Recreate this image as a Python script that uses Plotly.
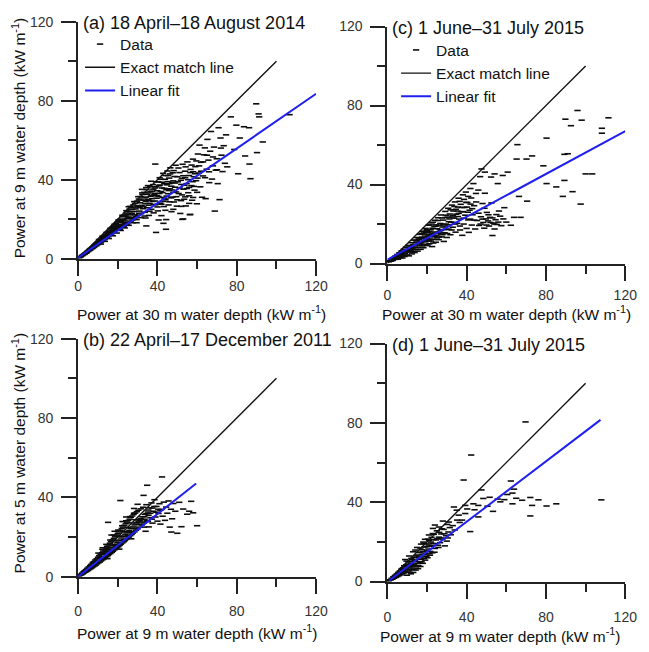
import plotly.graph_objects as go

# ---------------- data ----------------
a_points = [
    (0.6,0.5),(1.1,0.9),(1.4,1.0),(1.8,1.5),(2.2,1.6),(2.3,1.9),(2.7,2.1),(3.1,2.5),(3.3,2.2),(3.6,2.9),(3.9,2.8),(4.2,3.4),(4.4,3.0),
    (4.8,3.9),(5.1,3.6),(5.3,4.3),(5.7,4.1),(5.9,4.9),(6.2,4.4),(6.4,5.3),(6.8,5.0),(7.1,5.8),(7.3,5.2),(7.7,6.3),(8.0,5.7),(8.2,6.9),
    (8.6,6.2),(8.9,7.4),(9.2,6.6),(9.4,7.9),(9.8,7.1),(10.1,8.5),
    (10.4,7.6),(10.7,9.0),(11.0,8.1),(11.3,9.6),(11.6,8.4),(11.9,10.2),(12.2,8.9),(12.5,10.8),(12.8,9.5),(13.1,11.3),(13.4,9.9),
    (13.7,12.0),(14.0,10.4),(14.2,12.5),(14.6,10.9),(14.9,13.2),(15.2,11.3),(15.5,13.8),(15.8,11.9),(16.1,14.5),(16.4,12.3),(16.7,15.1),
    (17.0,12.7),(17.3,15.8),(17.6,13.4),(17.9,16.4),(18.2,13.7),(18.5,17.0),(18.8,14.5),(19.1,17.8),(19.4,14.9),(19.8,18.5),(15.3,12.6),
    (17.2,14.1),(18.6,15.5),(12.0,9.8),(13.9,11.5),
    (20.1,15.2),(20.4,19.0),(20.7,16.6),(21.0,14.8),(21.3,20.1),(21.6,17.4),(21.9,15.9),(22.3,21.2),(22.6,18.3),(22.9,16.2),(23.2,22.0),
    (23.5,19.1),(23.8,17.0),(24.1,23.1),(24.4,20.2),(24.7,17.5),(25.0,24.0),(25.3,21.0),(25.6,18.4),(25.9,25.1),(26.2,22.2),(26.5,19.0),
    (26.8,26.0),(27.1,23.0),(27.4,19.6),(27.8,27.2),(28.1,23.9),(28.4,20.5),(28.7,28.0),(29.0,25.2),(29.3,21.4),(29.7,29.1),(22.0,19.5),
    (24.0,21.5),(26.0,23.8),(28.0,26.1),(23.0,16.0),(27.0,21.0),(25.5,26.3),(21.5,18.8),
    (30.0,22.0),(30.3,26.4),(30.6,30.2),(30.9,24.1),(31.2,28.3),(31.5,31.4),(31.8,22.8),(32.1,27.0),(32.4,32.5),(32.7,25.3),(33.0,29.6),
    (33.3,33.6),(33.6,23.5),(33.9,27.9),(34.2,31.2),(34.5,35.0),(34.8,25.8),(35.1,30.0),(35.4,33.3),(35.7,21.9),(36.0,28.0),(36.3,36.4),
    (36.6,31.6),(36.9,25.0),(37.2,34.2),(37.5,29.0),(37.8,37.5),(38.1,23.2),(38.4,32.4),(38.7,35.8),(39.0,27.3),(39.3,38.9),(39.6,30.6),
    (39.9,34.4),(31.0,25.9),(33.5,30.8),(35.5,27.1),(37.0,31.9),(38.8,29.2),(34.0,20.6),(36.8,39.2),(32.2,35.1),(35.2,37.0),
    (40.2,24.2),(40.5,31.5),(40.8,36.9),(41.1,41.0),(41.4,28.1),(41.7,34.0),(42.0,21.8),(42.3,38.7),(42.6,31.0),(42.9,43.2),(43.2,26.4),
    (43.5,35.6),(43.8,40.2),(44.1,29.8),(44.4,19.8),(44.7,37.4),(45.0,44.4),(45.3,32.9),(45.6,27.2),(45.9,40.8),(46.2,35.4),(46.5,46.0),
    (46.8,30.8),(47.1,23.8),(47.4,38.6),(47.7,43.5),(48.0,33.6),(48.3,28.7),(48.6,41.6),(48.9,36.2),(49.2,47.3),(49.5,31.4),(49.8,26.6),
    (42.5,33.5),(44.5,34.9),(46.0,38.0),(48.0,39.4),(41.2,37.3),(43.6,30.4),(47.2,34.8),(45.4,42.1),(40.6,19.6),(43.0,17.9),
    (50.3,38.9),(50.7,33.0),(51.1,43.6),(51.5,22.9),(51.9,29.4),(52.3,40.7),(52.7,47.8),(53.1,35.2),(53.5,30.1),(53.9,44.3),(54.3,26.7),
    (54.7,38.0),(55.1,49.0),(55.5,33.4),(55.9,42.1),(56.3,22.3),(56.7,45.2),(57.1,37.0),(57.5,29.6),(57.9,50.4),(58.3,41.5),(58.7,34.7),
    (59.1,46.6),(59.5,39.5),(59.9,27.8),(52.0,37.6),(54.0,41.0),(56.0,36.1),(58.0,44.0),(53.0,20.1),
    (60.4,53.0),(60.8,43.4),(61.2,57.5),(61.6,36.4),(62.0,48.8),(62.5,31.1),(63.0,41.9),(63.5,52.6),(63.9,56.1),(64.3,30.4),(64.8,45.3),
    (65.2,60.4),(65.7,49.9),(66.1,38.5),(66.6,54.4),(67.0,64.4),(67.5,40.3),(68.0,47.0),(68.5,56.5),(68.9,24.1),(69.4,44.8),(69.9,50.6),
    (70.4,38.0),(70.8,66.3),(71.3,29.9),(71.8,61.1),(72.3,52.4),(72.8,44.1),(73.4,57.2),(74.0,48.3),(74.6,62.7),(75.2,46.5),
    (77.0,71.8),(78.7,55.3),(79.8,67.6),(80.7,43.0),(81.5,61.1),(83.6,66.8),(84.2,52.0),(86.2,66.3),(86.4,47.9),(86.9,40.5),
    (89.8,78.4),(90.2,53.7),(91.3,71.8),(93.1,59.1),(106.6,72.9),(122.0,70.0),(91.0,73.3),
    (38.9,47.9),(56.6,22.4),(52.5,19.9),(44.3,14.9),(39.3,13.3),(34.4,16.6),(29.5,18.2),
    (5.0,4.0),(6.0,4.8),(7.0,5.6),(8.0,6.4),(9.0,7.3),(10.0,7.9),(11.0,8.8),(12.0,9.5),(13.0,10.6),(14.0,11.1),(15.0,12.1),(16.0,12.9),
    (17.0,13.6),(18.0,14.6),(19.0,15.6),(20.0,16.3),
    (10.5,9.7),(12.3,11.4),(14.3,13.3),(16.3,15.4),(18.3,17.4),(20.3,19.6),(22.3,22.0),(24.3,24.3),(26.3,26.5),(28.3,28.9),(30.3,31.4),
    (32.3,33.3),(34.3,36.0),
    (11.5,7.4),(13.5,8.8),(15.5,10.2),(17.5,11.6),(19.5,13.0),(21.5,14.3),(23.5,15.6),(25.5,16.9),(27.5,18.2),(29.5,19.8),(31.5,20.8),
    (33.5,21.6),
    (21.2,16.9),(22.8,19.7),(23.6,17.8),(24.9,22.4),(26.1,20.4),(27.3,24.9),(28.6,22.2),(29.9,26.8),(30.7,23.0),(31.6,29.7),(32.9,26.3),
    (34.1,29.0),(34.9,32.6),(35.8,29.6),(36.4,33.9),(37.3,30.4),(37.9,35.2),(38.6,33.1),(39.2,36.4),(39.8,31.9),(40.4,38.9),(41.0,33.0),
    (41.6,40.2),(42.2,35.8),(42.8,29.0),(43.4,38.0),(44.0,42.1),(44.6,31.7),(45.2,39.0),(45.8,34.5),(46.4,42.9),(47.0,36.7),(47.6,31.2),
    (48.2,44.6),(48.8,38.3),(49.4,33.8),(50.0,41.5),(50.6,45.9),(51.2,35.8),(51.8,39.7),(52.4,32.3),(53.0,42.0),(53.6,37.2),(54.2,46.5),
    (54.8,35.5),(55.4,40.0),(56.0,31.8),(56.6,43.6),(57.2,47.4),(57.8,39.0),(58.4,36.6),(59.0,43.0),(59.6,49.5),(60.2,40.8),(61.0,47.0),
    (62.0,44.3),(63.0,49.0),(64.0,41.0),(65.0,52.4),(66.0,44.0),(68.0,51.5),(70.0,45.0),(72.0,56.0),(36.0,24.0),(38.0,27.5),(40.0,26.2),
    (42.0,27.6),(44.0,24.5),(46.0,28.8),(48.0,25.0),(50.0,29.8),(52.0,26.5),(54.0,31.3),(56.0,28.0),(58.0,31.0),(60.0,33.6),
]

c_points = [
    (0.8,0.9),(1.3,1.4),(1.9,1.2),(2.4,2.3),(2.8,1.6),(3.3,3.0),(3.7,2.1),(4.1,3.8),(4.6,2.6),(5.0,4.6),(5.4,2.2),(5.8,3.7),(6.1,5.5),
    (6.5,3.0),(6.9,4.6),(7.2,6.4),(7.6,2.8),(8.0,5.2),(8.3,7.3),(8.7,3.6),(9.1,6.0),(9.4,8.3),(9.8,4.4),(10.2,7.0),(10.5,9.2),(10.9,3.9),
    (11.3,5.8),(11.6,8.1),(12.0,10.6),(12.4,4.9),(12.7,7.2),(13.1,9.6),(13.5,11.9),(13.8,5.6),(14.2,8.4),(14.6,10.8),(14.9,13.2),
    (15.3,6.3),(15.7,9.4),(16.0,12.1),(16.4,14.8),(16.8,7.2),(17.1,10.6),(17.5,13.4),(17.9,16.4),(18.2,8.0),(18.6,11.5),(19.0,14.5),
    (19.3,17.8),(19.7,9.1),(20.1,12.6),(20.4,15.8),(20.8,19.4),(21.2,10.0),(21.5,13.6),(21.9,17.1),(22.3,20.6),(22.6,8.6),(23.0,12.2),
    (23.4,15.4),(23.7,18.8),(24.1,21.9),(24.5,10.8),(24.8,14.3),(25.2,17.6),(25.6,23.2),(25.9,12.1),(26.3,16.0),(26.7,20.3),(27.0,24.6),
    (27.4,13.5),(27.8,18.5),(28.1,22.0),(28.5,11.2),(28.9,15.6),(29.2,26.4),(29.6,20.0),(30.0,13.2),(30.4,23.5),(30.7,28.0),(31.1,17.3),
    (31.5,25.1),(31.8,14.6),(32.2,21.0),(32.6,29.6),(33.0,18.4),(33.3,26.6),(33.7,23.0),(34.1,31.2),(34.4,15.9),(34.8,25.0),(35.2,20.4),
    (35.6,28.6),(35.9,33.1),(36.3,22.5),(36.7,17.0),(37.0,30.0),(37.4,26.2),(37.8,14.3),(38.1,34.8),(38.5,20.0),(38.9,28.4),(39.3,24.5),
    (39.6,36.2),(40.0,17.8),(40.4,30.9),(40.8,22.1),(41.1,15.8),(41.5,27.0),(41.9,38.0),(42.3,33.2),(42.6,19.5),(43.0,24.7),(43.4,40.5),
    (43.8,29.3),(44.3,17.5),(44.7,35.5),(45.2,21.8),(45.9,37.2),(46.3,19.3),(46.8,44.0),(47.2,23.7),(47.5,47.9),(48.0,30.4),(48.4,20.8),
    (48.9,17.9),(49.2,35.6),(49.2,46.3),(49.7,22.6),(50.2,25.9),(50.8,21.6),(51.3,19.0),(51.8,23.4),(52.3,43.8),(52.5,30.7),(53.0,14.2),
    (53.4,20.5),(54.1,17.5),(54.1,45.4),(54.6,22.2),(55.2,19.8),(55.7,40.5),(56.3,26.6),(56.9,24.0),(58.2,44.6),(59.0,28.3),(60.7,46.3),
    (62.3,19.4),(63.9,23.4),(65.2,52.9),(65.6,60.2),(66.4,34.0),(67.2,23.4),(70.2,52.9),(70.5,31.6),(73.0,54.5),(78.7,49.5),(80.3,63.5),
    (80.3,40.5),(85.2,38.8),(88.5,34.0),(89.3,55.3),(89.3,42.1),(89.8,73.1),(91.0,55.6),(92.6,69.8),(93.4,36.4),(95.9,77.5),(97.5,30.1),
    (98.0,72.6),(100.0,45.4),(103.3,45.4),(108.2,68.5),(108.2,66.0),(111.5,73.8),(122.0,49.0),
    (15.0,11.5),(16.2,10.3),(17.4,15.2),(18.0,12.8),(19.2,11.0),(20.0,17.3),(20.9,14.6),(22.0,11.4),(22.8,17.9),(23.9,14.0),(19.6,15.6),
    (21.7,12.4),(17.8,9.5),(24.4,18.9),(26.0,13.4),(14.0,7.1),(13.0,8.0),(11.9,6.6),(27.2,16.8),(29.0,19.0),(31.0,21.2),(33.1,24.3),
    (30.3,17.4),(35.4,26.6),(36.5,31.5),(38.7,32.5),(40.6,26.0),(42.0,30.1),
    (5.5,3.3),(6.7,4.0),(7.9,4.1),(8.9,5.2),(9.9,6.1),(10.8,6.8),(11.8,7.5),(12.9,6.0),(13.9,9.8),(14.8,8.0),(15.8,12.9),(16.6,11.0),
    (17.6,8.3),(18.4,15.5),(19.4,12.2),(20.3,9.4),(21.1,16.2),(22.1,14.4),(23.2,10.4),(24.0,16.0),(25.0,13.0),(26.1,19.4),(27.1,15.0),
    (28.2,19.8),(29.3,23.3),(30.2,15.2),(31.3,22.6),(32.4,17.0),(33.4,20.8),(34.6,27.5),(35.6,23.8),(36.6,19.0),(37.6,28.4),(38.6,23.0),
    (39.8,31.0),(40.8,34.0),(41.8,22.5),(42.8,27.8),(43.8,22.0),(44.8,31.2),(46.0,25.5),(47.0,20.0),(48.0,22.5),(49.0,28.0),(50.0,19.5),
    (51.0,24.7),(52.0,20.8),(53.0,23.1),(54.0,20.0),(55.0,24.8),(56.0,21.0),(57.5,19.2),(58.5,22.6),(60.0,21.0),(16.9,13.0),(18.8,9.8),
    (20.6,13.8),(22.5,15.0),(24.6,19.6),(26.5,17.1),(28.7,17.2),(30.8,19.6),(32.8,23.6),(34.2,20.0),(36.0,25.4),(38.2,26.3),(40.2,28.6),
    (19.9,16.9),(21.4,19.6),(23.0,20.9),(25.4,21.8),(27.6,23.1),(29.8,24.5),(31.9,27.2),(33.8,28.9),(12.5,9.0),(14.4,11.8),(16.5,9.1),
    (18.9,13.4),(21.0,11.5),(23.6,13.6),(25.8,15.3),(27.8,14.6),(9.6,7.0),(11.2,9.0),(7.4,5.8),
]

b_points = [
    (0.5,0.4),(0.9,0.8),(1.3,1.2),(1.6,0.9),(2.0,1.8),(2.3,1.4),(2.7,2.5),(3.0,1.9),(3.3,3.0),(3.7,2.3),(4.0,3.6),(4.3,2.7),(4.7,4.3),
    (5.0,3.1),(5.3,4.9),(5.6,3.6),(6.0,5.6),(6.3,4.0),(6.6,6.2),(7.0,4.5),(7.3,6.9),(7.6,5.0),(8.0,7.6),(8.3,5.4),(8.6,8.4),(9.0,5.9),
    (9.3,9.0),(9.6,6.5),(10.0,9.8),(10.3,7.0),(10.6,10.6),(11.0,7.4),(11.3,11.3),(11.6,8.0),(12.0,12.1),(12.3,8.5),(12.6,12.9),(13.0,9.0),
    (13.3,13.6),(13.6,9.6),(14.0,14.5),(14.3,10.1),(14.6,15.3),(15.0,10.6),(15.3,16.0),(15.6,11.2),(16.0,16.9),(16.3,11.7),(16.6,17.6),
    (17.0,12.3),(17.3,18.5),(17.6,12.8),(18.0,19.3),(18.3,13.5),(18.6,20.1),(19.0,14.0),(19.3,21.0),(19.6,14.6),(20.0,21.8),(20.3,15.1),
    (20.6,22.6),(21.0,15.8),(21.3,23.4),(21.6,16.4),(22.0,24.3),(22.3,17.0),(22.6,25.0),(23.0,17.6),(23.3,25.9),(23.6,18.2),(24.0,26.7),
    (24.3,18.8),(24.6,27.5),(25.0,19.4),(25.3,28.3),(25.6,20.0),(26.0,29.0),(26.3,20.7),(26.6,29.9),(27.0,21.3),(27.3,30.6),(27.6,22.0),
    (28.0,31.4),(28.4,22.6),(28.8,32.1),(29.2,23.4),(29.6,32.8),(30.0,24.1),(30.4,33.5),(30.8,25.0),(31.2,28.6),(31.6,34.2),(32.0,26.0),
    (32.4,30.2),(32.8,35.0),(33.2,27.1),(33.6,31.4),(34.0,22.9),(34.4,36.3),(34.8,28.3),(35.2,32.6),(35.6,25.1),(36.0,34.7),(36.5,29.8),
    (37.0,37.2),(37.5,27.0),(38.0,33.0),(38.5,38.8),(39.0,30.1),(39.5,35.4),(40.0,28.0),(40.5,31.9),(41.0,36.8),(41.5,26.5),(42.0,33.9),
    (42.6,30.5),(43.2,37.6),(43.8,28.4),(44.4,35.1),(45.0,32.0),(45.6,38.2),(46.2,25.0),(46.8,34.0),(47.4,29.2),(48.0,36.9),(49.0,33.0),
    (50.0,21.9),(51.0,37.5),(52.1,25.2),(53.0,34.1),(55.0,31.5),(57.0,38.0),(58.0,32.2),(60.0,25.7),(15.1,27.4),(21.3,38.4),(34.8,46.1),
    (42.3,50.3),(33.0,41.0),(47.0,22.5),(56.0,33.0),
    (5.5,4.3),(7.8,6.3),(9.8,8.0),(11.8,10.0),(13.8,11.9),(15.8,13.7),(17.8,15.6),(19.8,17.4),(21.8,19.5),(23.8,21.3),(25.8,23.2),
    (27.8,25.1),(29.8,27.2),(31.5,29.3),(33.5,29.0),(35.5,31.0),(12.4,14.6),(18.4,22.9),(24.2,30.1),(14.8,9.1),(20.8,13.9),(26.8,19.1),
    (30.0,36.5),(28.2,34.4),(22.4,27.8),(16.8,21.0),
    (3.8,3.2),(4.6,3.9),(6.4,5.5),(7.2,5.9),(8.8,7.4),(9.4,7.7),(10.8,9.2),(11.4,9.6),(12.8,11.1),(13.4,11.4),(14.4,12.7),(15.4,13.0),
    (16.4,14.5),(17.4,14.8),(18.4,16.2),(19.4,16.4),(20.4,18.3),(21.4,18.4),(22.4,20.3),(23.4,20.4),(24.4,22.1),(25.4,22.6),(26.4,24.2),
    (27.4,24.4),(28.4,26.1),(29.4,26.5),(30.4,28.0),(31.4,28.5),(32.4,27.6),(33.4,30.2),(34.4,31.8),(35.4,33.6),(36.4,32.0),(37.4,34.6),
    (38.4,35.4),(39.4,32.5),(40.4,34.0),(41.4,33.5),(10.2,11.9),(12.2,13.8),(14.2,16.3),(16.2,18.5),(18.2,21.0),(20.2,23.5),(22.2,25.7),
    (24.2,28.2),(26.2,30.3),(28.2,32.0),(11.2,8.1),(13.2,9.8),(15.2,11.9),(17.2,13.4),(19.2,15.2),(21.2,17.0),(23.2,18.6),(25.2,20.6),
    (27.2,22.4),(29.2,24.3),(31.2,26.4),(33.2,25.0),(35.2,27.8),(37.2,29.0),(7.5,7.2),(9.0,6.8),(11.0,10.0),(13.0,11.6),(15.0,13.9),
    (17.0,15.9),(19.0,18.2),(21.0,20.5),(23.0,22.8),(25.0,24.9),(27.0,27.1),(29.0,28.7),(6.0,4.4),(8.2,6.0),(3.0,2.6),(2.0,1.5),
]

d_points = [
    (0.7,0.4),(1.2,0.9),(1.7,0.8),(2.1,1.6),(2.6,1.2),(3.0,2.4),(3.4,1.7),(3.9,3.1),(4.3,2.1),(4.7,3.8),(5.1,2.5),(5.5,4.6),(5.9,3.0),
    (6.3,5.3),(6.7,3.4),(7.1,6.1),(7.5,3.9),(7.9,6.9),(8.3,4.3),(8.7,7.7),(9.1,4.8),(9.5,8.5),(9.9,3.2),(10.3,6.2),(10.7,9.4),(11.1,5.4),
    (11.5,10.2),(11.9,3.9),(12.3,7.5),(12.7,11.0),(13.1,4.6),(13.5,8.8),(13.9,12.1),(14.3,5.8),(14.7,10.0),(15.1,13.4),(15.5,6.5),
    (15.9,11.3),(16.3,14.6),(16.7,7.6),(17.1,12.4),(17.5,16.0),(17.9,9.2),(18.3,13.6),(18.7,17.4),(19.1,10.8),(19.5,15.1),(19.9,19.0),
    (20.3,12.0),(20.7,16.4),(21.1,20.6),(21.5,13.3),(21.9,17.8),(22.3,22.3),(22.7,14.5),(23.1,19.2),(23.5,23.8),(24.0,16.7),(24.5,21.0),
    (25.0,25.6),(25.5,18.3),(26.0,22.4),(26.6,19.6),(27.2,24.0),(27.8,21.4),(28.4,26.3),(29.0,18.0),(29.6,23.1),(30.2,28.8),(30.8,25.0),
    (31.5,27.2),(32.0,23.6),(33.6,37.6),(33.0,28.2),(35.2,31.0),(36.0,33.5),(37.7,31.0),(39.3,34.3),(39.3,38.4),(38.5,51.2),(41.8,25.2),
    (42.3,63.8),(43.4,39.2),(45.9,38.4),(45.9,32.6),(47.5,46.2),(51.6,42.5),(53.3,35.4),(55.7,41.6),(59.0,41.3),(62.3,50.7),(63.9,46.6),
    (63.1,44.6),(63.1,39.2),(69.7,80.5),(72.1,42.4),(73.0,38.4),(72.1,33.1),(76.2,41.2),(80.3,38.1),(85.2,39.2),(107.9,41.2),(28.0,30.5),
    (30.0,20.4),
    (8.0,5.6),(10.0,7.8),(12.0,9.0),(14.0,10.6),(16.0,12.7),(18.0,15.0),(20.0,17.6),(22.0,19.9),(13.0,15.0),(15.0,17.2),(17.0,18.9),
    (19.0,21.3),(21.0,23.5),(11.0,12.9),(9.0,11.1),(23.0,26.8),(12.5,6.0),(14.5,7.4),(16.5,9.5),(18.5,11.6),(10.5,4.7),(24.0,28.5),
    (26.0,27.5),
    (4.5,3.1),(5.8,4.1),(6.9,4.7),(8.1,5.1),(9.3,6.3),(10.1,8.5),(11.3,6.9),(12.1,11.7),(12.9,8.1),(13.7,10.2),(14.5,12.9),(15.3,9.1),
    (16.1,14.8),(16.9,11.2),(17.7,13.7),(18.5,19.2),(19.3,14.0),(20.1,15.5),(20.9,18.4),(21.7,15.2),(22.5,18.0),(23.3,21.2),(24.2,19.1),
    (25.2,21.6),(26.2,24.8),(27.0,22.0),(27.5,26.6),(28.8,24.1),(13.3,6.4),(15.7,8.0),(17.3,10.0),(19.7,12.8),(21.3,14.1),(14.1,15.9),
    (16.7,16.9),(18.1,19.9),(20.5,21.4),(22.9,24.2),(9.7,10.3),(11.7,8.2),(7.3,6.5),(8.5,8.0),(6.1,4.0),(3.6,2.6),(23.8,14.8),(25.8,17.2),
    (30.5,22.0),(31.0,30.0),(34.0,26.0),(35.0,36.0),(36.5,29.8),(40.3,36.6),(44.0,36.2),(48.4,41.9),(50.5,38.0),(57.0,40.2),(60.5,43.9),
    (65.0,42.0),(68.0,41.0),
]

exact_x = [0, 100]
exact_y = [0, 100]
a_fit_x, a_fit_y = [0, 120], [0.5, 83.5]
c_fit_x, c_fit_y = [0, 120], [2, 67]
b_fit_x, b_fit_y = [0, 59.5], [0, 47]
d_fit_x, d_fit_y = [1, 107.5], [0.5, 81.5]

titles = {
    "a": "(a) 18 April\u201318 August 2014",
    "c": "(c) 1 June\u201331 July 2015",
    "b": "(b) 22 April\u201317 December 2011",
    "d": "(d) 1 June\u201331 July 2015",
}
xtitles = {
    "a": "Power at 30 m water depth (kW m<sup>-1</sup>)",
    "c": "Power at 30 m water depth (kW m<sup>-1</sup>)",
    "b": "Power at 9 m water depth (kW m<sup>-1</sup>)",
    "d": "Power at 9 m water depth (kW m<sup>-1</sup>)",
}
ytitles = {
    "a": "Power at 9 m water depth (kW m<sup>-1</sup>)",
    "b": "Power at 5 m water depth (kW m<sup>-1</sup>)",
}
tick_vals = [0, 40, 80, 120]

# ---------------- figure ----------------
W, H = 649, 652
FONT = "Arial, 'Liberation Sans', sans-serif"

def px(x):
    return x / W

def py(y):
    return 1 - y / H

# panel key -> (axis suffix, x px range, y px range (top,bottom), label standoff, legend, data, fit)
panels = {
    "a": ("", (76, 320), (14, 257), -1, "legend", a_points, a_fit_x, a_fit_y),
    "c": ("2", (393, 637), (19, 262), 3, "legend2", c_points, c_fit_x, c_fit_y),
    "b": ("3", (76, 320), (339, 583), 6, None, b_points, b_fit_x, b_fit_y),
    "d": ("4", (393, 637), (344, 588), 7, None, d_points, d_fit_x, d_fit_y),
}

fig = go.Figure()
annotations = []
layout = {}

for key, (sfx, xr, yr, standoff, leg, pts, fx, fy) in panels.items():
    xa, ya = "x" + sfx, "y" + sfx
    show = leg is not None
    xs = [p[0] for p in pts]
    ys = [p[1] for p in pts]
    fig.add_trace(go.Scatter(
        x=xs, y=ys, mode="markers", name="Data", xaxis=xa, yaxis=ya,
        marker=dict(symbol="line-ew", size=4.5, color="#000000",
                    line=dict(width=1.6, color="#000000")),
        opacity=0.95, cliponaxis=False, showlegend=show, legend=leg or "legend",
    ))
    fig.add_trace(go.Scatter(
        x=exact_x, y=exact_y, mode="lines", name="Exact match line", xaxis=xa, yaxis=ya,
        line=dict(color="#111111", width=1.4), showlegend=show, legend=leg or "legend",
    ))
    fig.add_trace(go.Scatter(
        x=fx, y=fy, mode="lines", name="Linear fit", xaxis=xa, yaxis=ya,
        line=dict(color="#1f1ff0", width=2), showlegend=show, legend=leg or "legend",
    ))

    axis_common = dict(
        range=[0, 120], tickvals=tick_vals, ticks="outside", showline=True, ticklen=15,
        linecolor="#222222", linewidth=2, tickcolor="#222222", tickwidth=1.5,
        showgrid=False, zeroline=False, tickfont=dict(family=FONT, size=14, color="#333333"),
        minor=dict(dtick=20, tick0=0, ticks="outside", ticklen=8, tickcolor="#222222", tickwidth=1.5),
    )
    xk = "xaxis" + sfx
    yk = "yaxis" + sfx
    layout[xk] = dict(axis_common, domain=[px(xr[0]), px(xr[1])], anchor=ya,
                      ticklabelstandoff=standoff)
    layout[yk] = dict(axis_common, domain=[py(yr[1]), py(yr[0])], anchor=xa,
                      ticklabelstandoff=5)

    # panel title
    annotations.append(dict(
        text=titles[key], xref="paper", yref="paper", x=px(xr[0] + 3), y=py(yr[0] + 1),
        xanchor="left", yanchor="middle", showarrow=False,
        font=dict(family=FONT, size=18, color="#111111"),
    ))

# x-axis titles
for key, xc, yc in [("a", 202, 313), ("c", 515, 313), ("b", 198, 640), ("d", 509, 643)]:
    annotations.append(dict(
        text=xtitles[key], xref="paper", yref="paper", x=px(xc), y=py(yc),
        xanchor="center", yanchor="middle", showarrow=False,
        font=dict(family=FONT, size=15.5, color="#111111"),
    ))
# y-axis titles
for key, xc, yc in [("a", 15, 133), ("b", 15, 456)]:
    annotations.append(dict(
        text=ytitles[key], xref="paper", yref="paper", x=px(xc), y=py(yc),
        xanchor="center", yanchor="middle", textangle=-90, showarrow=False,
        font=dict(family=FONT, size=15.5, color="#111111"),
    ))

legend_common = dict(
    bgcolor="rgba(0,0,0,0)", borderwidth=0, font=dict(family=FONT, size=15.5, color="#111111"),
    xanchor="left", yanchor="top", itemwidth=30, tracegroupgap=0,
)

fig.update_layout(
    width=W, height=H, margin=dict(l=0, r=0, t=0, b=0),
    paper_bgcolor="white", plot_bgcolor="white",
    font=dict(family=FONT, size=14, color="#111111"),
    annotations=annotations,
    legend=dict(legend_common, x=px(78), y=py(20)),
    legend2=dict(legend_common, x=px(402), y=py(26)),
    **layout,
)

fig.write_html("out.html")
